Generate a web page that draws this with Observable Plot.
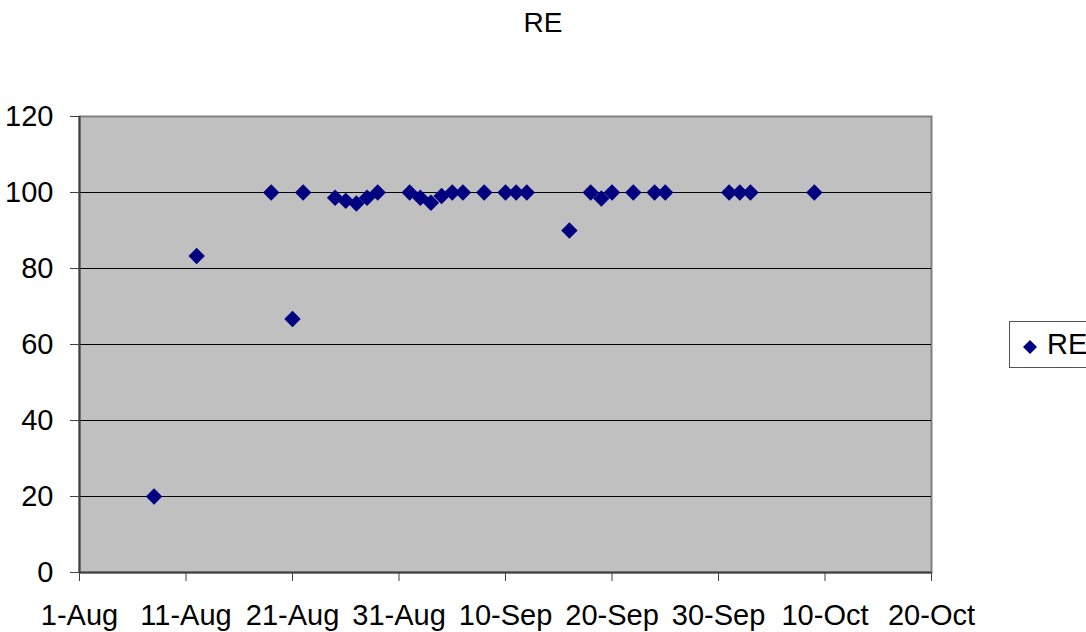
<!DOCTYPE html>
<html>
<head>
<meta charset="utf-8">
<script src="https://cdn.jsdelivr.net/npm/d3@7"></script>
<script src="https://cdn.jsdelivr.net/npm/@observablehq/plot@0.6"></script>
<style>
  html, body { margin: 0; padding: 0; background: #fff; }
  #wrap { position: relative; width: 1086px; height: 632px; overflow: hidden;
          font-family: "Liberation Sans", Arial, sans-serif; }
  #title { position: absolute; left: 0; width: 1086px; top: 6px; text-align: center;
           font-size: 28px; color: #000; line-height: 34px; }
  #legend { position: absolute; left: 1009px; top: 321px; width: 100px; height: 47px;
            border: 1px solid #555; background: #fff; box-sizing: border-box; }
  #legend svg { position: absolute; left: 12px; top: 17px; }
  #legend span { position: absolute; left: 37px; top: 5px; font-size: 29px; line-height: 34px; color: #000; }
</style>
</head>
<body>
<div id="wrap">
  <div id="title">RE</div>
  <div id="legend">
    <svg width="16" height="16" viewBox="-8 -8 16 16"><path d="M0,-7L7,0L0,7L-7,0Z" fill="#000080"/></svg>
    <span>RE</span>
  </div>
</div>
<script>
// Daily RE readings
const dates = [
  "2006-08-08", "2006-08-12", "2006-08-19", "2006-08-21", "2006-08-22",
  "2006-08-25", "2006-08-26", "2006-08-27", "2006-08-28", "2006-08-29",
  "2006-09-01", "2006-09-02", "2006-09-03", "2006-09-04", "2006-09-05",
  "2006-09-06", "2006-09-08", "2006-09-10", "2006-09-11", "2006-09-12",
  "2006-09-16", "2006-09-18", "2006-09-19", "2006-09-20", "2006-09-22",
  "2006-09-24", "2006-09-25", "2006-10-01", "2006-10-02", "2006-10-03",
  "2006-10-09"
];
const values = [
  20, 83.3, 100, 66.7, 100,
  98.6, 97.8, 97.1, 98.6, 100,
  100, 98.6, 97.3, 99.1, 100,
  100, 100, 100, 100, 100,
  90, 100, 98.4, 100, 100,
  100, 100, 100, 100, 100,
  100
];

// Axis ticks
const xTickDates = ["2006-08-01", "2006-08-11", "2006-08-21", "2006-08-31", "2006-09-10",
                    "2006-09-20", "2006-09-30", "2006-10-10", "2006-10-20"];
const xTickLabels = ["1-Aug", "11-Aug", "21-Aug", "31-Aug", "10-Sep",
                     "20-Sep", "30-Sep", "10-Oct", "20-Oct"];
const yTicks = [0, 20, 40, 60, 80, 100, 120];
const gridValues = [20, 40, 60, 80, 100];

const parse = d3.utcParse("%Y-%m-%d");
const data = dates.map((d, i) => ({date: parse(d), value: values[i]}));
const xTicks = xTickDates.map(parse);
const labelOf = new Map(xTicks.map((t, i) => [+t, xTickLabels[i]]));

const chart = Plot.plot({
  width: 1086,
  height: 632,
  marginLeft: 79,
  marginRight: 155,
  marginTop: 116,
  marginBottom: 60,
  style: {fontFamily: "'Liberation Sans', Arial, sans-serif", fontSize: "29px", color: "#000", background: "transparent"},
  x: {type: "utc", domain: [xTicks[0], xTicks[xTicks.length - 1]]},
  y: {domain: [0, 120]},
  marks: [
    Plot.frame({fill: "#c0c0c0", stroke: "#808080", strokeWidth: 2}),
    Plot.ruleY(gridValues, {stroke: "#000", strokeWidth: 1}),
    Plot.ruleX([xTicks[0]], {stroke: "#404040", strokeWidth: 2}),
    Plot.ruleY([0], {stroke: "#404040", strokeWidth: 2}),
    Plot.axisY({ticks: yTicks, tickSize: 9, tickPadding: 17, stroke: "#404040",
                fontSize: 29, label: null}),
    Plot.axisX({ticks: xTicks, tickSize: 9, tickPadding: 23, stroke: "#404040",
                fontSize: 29, label: null, tickFormat: d => labelOf.get(+d)}),
    Plot.dot(data, {x: "date", y: "value", symbol: "diamond2", r: 7.4,
                    fill: "#000080", stroke: "none"})
  ]
});
chart.style.position = "absolute";
chart.style.left = "0";
chart.style.top = "0";
document.getElementById("wrap").prepend(chart);
</script>
</body>
</html>
